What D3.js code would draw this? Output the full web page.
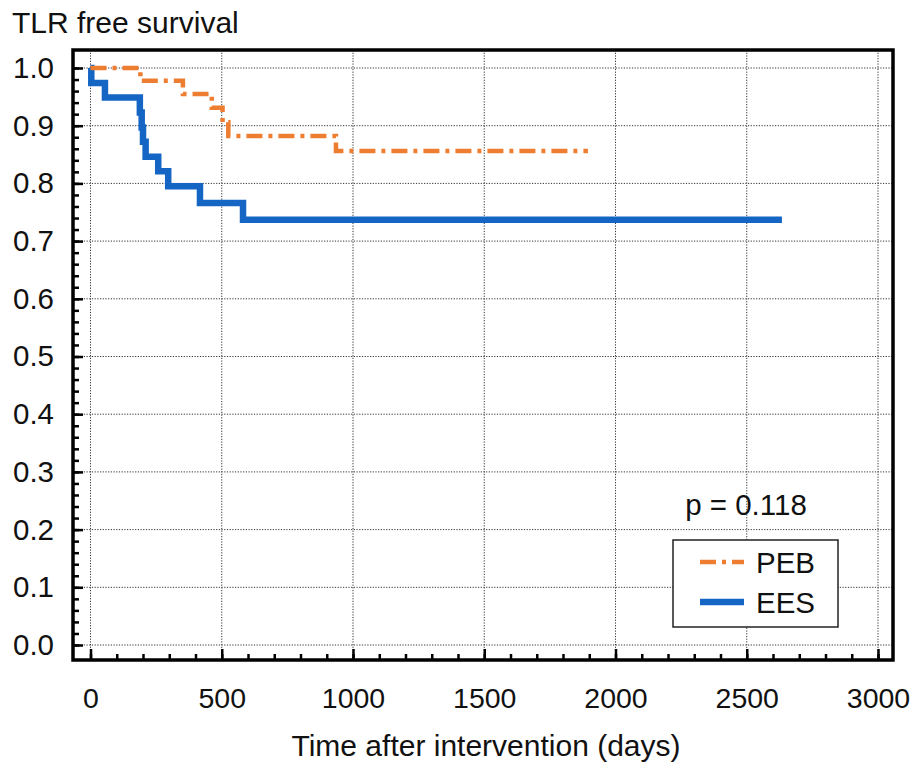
<!DOCTYPE html>
<html>
<head>
	<meta charset="utf-8">
	<title>TLR free survival</title>
	<script src="https://d3js.org/d3.v7.min.js"></script>
	<style>
		body { margin: 0; background: #fff; }
		text { font-family: "Liberation Sans", Arial, sans-serif; fill: #111; }
	</style>
</head>
<body>
	<script>
		// Kaplan-Meier steps
		var pebTimes = [0, 190, 352, 462, 503, 525, 935, 1895];
		var pebSurv  = [1, 0.978, 0.955, 0.931, 0.906, 0.882, 0.856, 0.856];
		var eesTimes = [0, 3, 55, 188, 195, 200, 210, 258, 296, 417, 581, 2634];
		var eesSurv  = [1, 0.974, 0.949, 0.923, 0.897, 0.872, 0.846, 0.821, 0.795, 0.766, 0.737, 0.737];

		var xTicks = [0, 500, 1000, 1500, 2000, 2500, 3000];
		var yTicks = [0, 0.1, 0.2, 0.3, 0.4, 0.5, 0.6, 0.7, 0.8, 0.9, 1.0];
		var seriesNames = ["PEB", "EES"];
		var pValue = "p = 0.118";

		var W = 916, H = 762;
		var frame = { left: 73, top: 50, right: 893, bottom: 660 };

		var x = d3.scaleLinear().domain([0, 3000]).range([90.5, 878]);
		var y = d3.scaleLinear().domain([0, 1]).range([645, 68]);

		var svg = d3.select("body").append("svg")
						.attr("width", W)
						.attr("height", H);

		// grid
		var grid = svg.append("g")
						.attr("stroke", "#333")
						.attr("stroke-width", 1)
						.attr("stroke-dasharray", "1.2,1.5");
		grid.selectAll(".vg").data(xTicks).enter().append("line")
			.attr("x1", function (d) { return x(d); })
			.attr("x2", function (d) { return x(d); })
			.attr("y1", frame.top).attr("y2", frame.bottom);
		grid.selectAll(".hg").data(yTicks).enter().append("line")
			.attr("y1", function (d) { return y(d); })
			.attr("y2", function (d) { return y(d); })
			.attr("x1", frame.left).attr("x2", frame.right);

		// curves
		var line = d3.line()
					.x(function (d) { return x(d[0]); })
					.y(function (d) { return y(d[1]); })
					.curve(d3.curveStepAfter);

		svg.append("path")
			.datum(d3.zip(eesTimes, eesSurv))
			.attr("d", line)
			.attr("fill", "none")
			.attr("stroke", "#1565C4")
			.attr("stroke-width", 6.5);

		svg.append("path")
			.datum(d3.zip(pebTimes, pebSurv))
			.attr("d", line)
			.attr("fill", "none")
			.attr("stroke", "#ED7D31")
			.attr("stroke-width", 4.5)
			.attr("stroke-dasharray", "16,6,4,6");

		// frame
		svg.append("rect")
			.attr("x", frame.left).attr("y", frame.top)
			.attr("width", frame.right - frame.left)
			.attr("height", frame.bottom - frame.top)
			.attr("fill", "none")
			.attr("stroke", "#000")
			.attr("stroke-width", 3.5);

		// axes (ticks point inward)
		var yMinor = d3.range(0, 1.001, 0.02);
		var xMinor = d3.range(0, 3001, 100);

		var yAxis = svg.append("g")
						.attr("transform", "translate(" + frame.left + ",0)")
						.call(d3.axisLeft(y).tickValues(yTicks).tickSize(-10).tickPadding(19)
							.tickFormat(d3.format(".1f")));
		svg.append("g")
			.attr("transform", "translate(" + frame.left + ",0)")
			.call(d3.axisLeft(y).tickValues(yMinor).tickSize(-6).tickFormat(""))
			.select(".domain").remove();

		var xAxis = svg.append("g")
						.attr("transform", "translate(0," + frame.bottom + ")")
						.call(d3.axisBottom(x).tickValues(xTicks).tickSize(-11).tickPadding(28)
							.tickFormat(d3.format("d")));
		svg.append("g")
			.attr("transform", "translate(0," + frame.bottom + ")")
			.call(d3.axisBottom(x).tickValues(xMinor).tickSize(-6).tickFormat(""))
			.select(".domain").remove();

		yAxis.select(".domain").remove();
		xAxis.select(".domain").remove();
		svg.selectAll(".tick line").attr("stroke", "#000").attr("stroke-width", 2.5);
		yAxis.selectAll("text").attr("font-size", 29.5).attr("font-family", null).attr("fill", "#111");
		xAxis.selectAll("text").attr("font-size", 28.5).attr("font-family", null).attr("fill", "#111");

		// titles
		svg.append("text")
			.attr("x", 12).attr("y", 33)
			.attr("font-size", 30)
			.text("TLR free survival");

		svg.append("text")
			.attr("x", 486).attr("y", 756)
			.attr("text-anchor", "middle")
			.attr("font-size", 30)
			.text("Time after intervention (days)");

		svg.append("text")
			.attr("x", 746).attr("y", 515)
			.attr("text-anchor", "middle")
			.attr("font-size", 29.5)
			.text(pValue);

		// legend
		var lg = svg.append("g");
		lg.append("rect")
			.attr("x", 673).attr("y", 540)
			.attr("width", 165).attr("height", 87)
			.attr("fill", "#fff")
			.attr("stroke", "#222")
			.attr("stroke-width", 1.5);
		var styles = [
			{ color: "#ED7D31", width: 4.5, dash: "16,6,4,6" },
			{ color: "#1565C4", width: 6.5, dash: null }
		];
		seriesNames.forEach(function (name, i) {
			var cy = 562 + i * 40;
			lg.append("line")
				.attr("x1", 700).attr("x2", 744)
				.attr("y1", cy).attr("y2", cy)
				.attr("stroke", styles[i].color)
				.attr("stroke-width", styles[i].width)
				.attr("stroke-dasharray", styles[i].dash);
			lg.append("text")
				.attr("x", 756).attr("y", cy + 11)
				.attr("font-size", 29.5)
				.text(name);
		});
	</script>
</body>
</html>
